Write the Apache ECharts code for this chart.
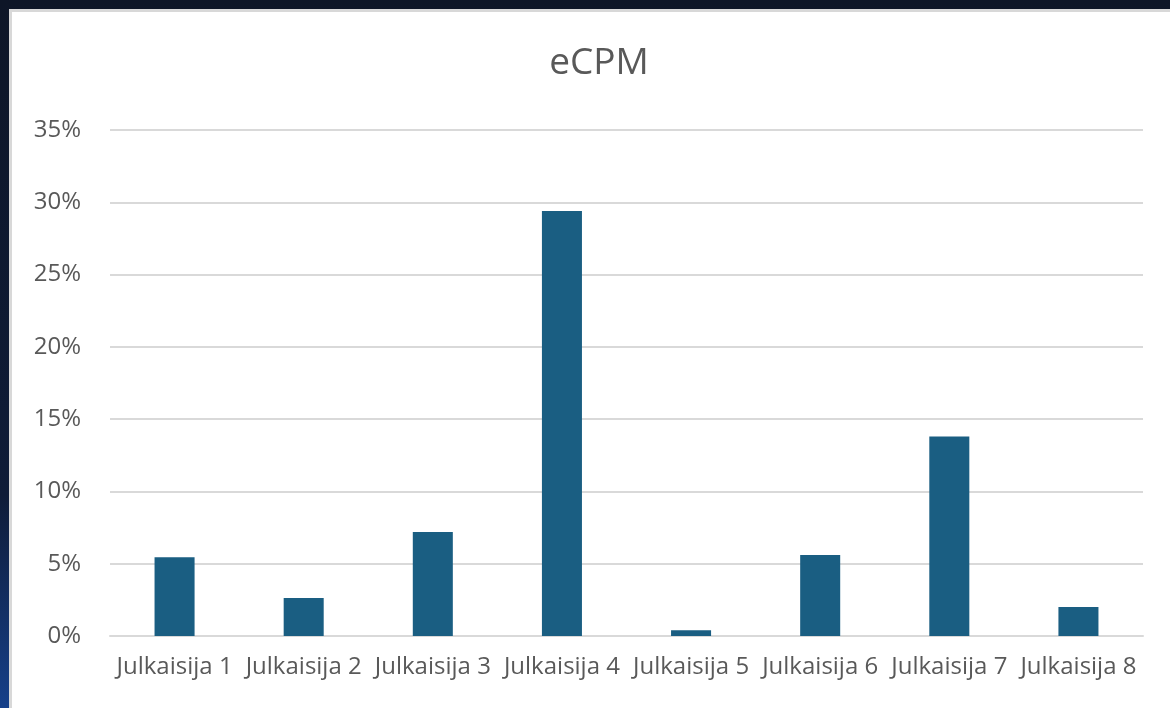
<!DOCTYPE html>
<html>
<head>
<meta charset="utf-8">
<script src="https://cdn.jsdelivr.net/npm/echarts@6/dist/echarts.min.js"></script>
<style>
  html, body { margin: 0; padding: 0; }
  body {
    width: 1170px; height: 708px; overflow: hidden; position: relative;
    background: linear-gradient(180deg, #0e1627 0%, #0f1c38 70%, #16408a 100%);
  }
  #panel {
    position: absolute; left: 9px; top: 9px; width: 1161px; height: 699px;
    background: #ffffff; box-sizing: border-box;
    border-top: 3px solid #d8d8d8; border-left: 3px solid #d8d8d8;
  }
  #chart { position: absolute; left: 0; top: 0; width: 1170px; height: 708px; }
</style>
</head>
<body>
<div id="panel"></div>
<div id="chart"></div>
<script>
// eCPM per publisher, as percentages
const categories = ['Julkaisija 1', 'Julkaisija 2', 'Julkaisija 3', 'Julkaisija 4',
                    'Julkaisija 5', 'Julkaisija 6', 'Julkaisija 7', 'Julkaisija 8'];
const ecpmValues = [5.45, 2.63, 7.2, 29.4, 0.4, 5.6, 13.8, 2.0];
const titleText = 'eCPM';

const chart = echarts.init(document.getElementById('chart'), null, { renderer: 'canvas' });
chart.setOption({
  backgroundColor: 'transparent',
  animation: false,
  title: {
    text: titleText,
    left: 594, top: 40, textAlign: 'center',
    textStyle: { fontFamily: 'Open Sans', fontSize: 37, fontWeight: 'normal', color: '#595959' }
  },
  grid: { left: 110, right: 27, top: 130, bottom: 72 },
  xAxis: {
    type: 'category',
    data: categories,
    axisLine: { show: true, lineStyle: { color: '#d9d9d9', width: 2 } },
    axisTick: { show: false },
    axisLabel: {
      interval: 0, margin: 19, color: '#595959',
      fontFamily: 'Open Sans', fontSize: 24
    }
  },
  yAxis: {
    type: 'value',
    min: 0, max: 35, interval: 5,
    axisLine: { show: false },
    axisTick: { show: false },
    splitLine: { lineStyle: { color: '#d9d9d9', width: 2 } },
    axisLabel: {
      margin: 29, color: '#595959',
      fontFamily: 'Open Sans', fontSize: 24,
      formatter: v => v + '%'
    }
  },
  series: [{
    type: 'bar',
    data: ecpmValues,
    barWidth: '31%',
    itemStyle: { color: '#1a5e82' }
  }]
});
</script>
</body>
</html>
